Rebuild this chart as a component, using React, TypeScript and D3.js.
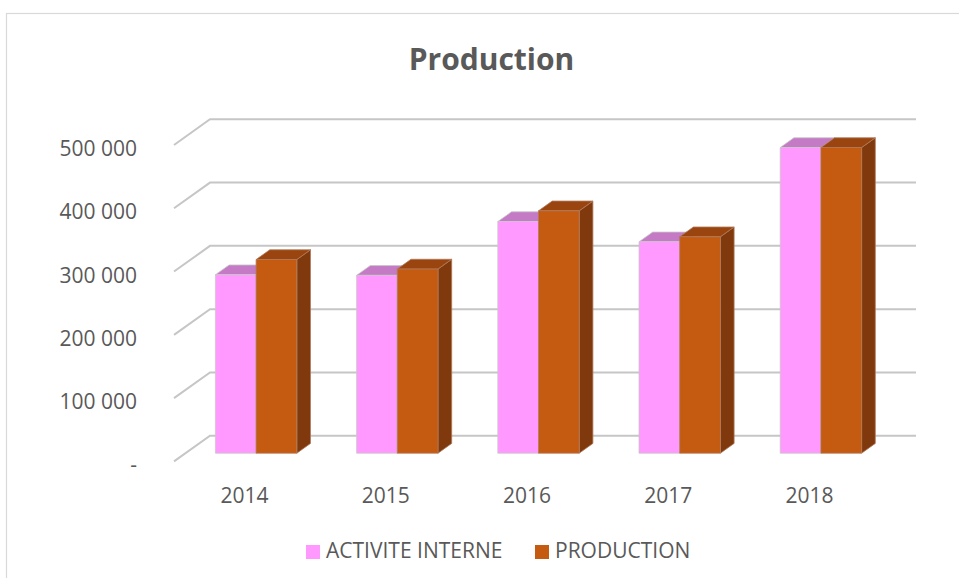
import React from "react";
import * as d3 from "d3";

const categories = ["2014", "2015", "2016", "2017", "2018"];
const activiteInterne = [282000, 281000, 366000, 334000, 483000];
const production = [306000, 291000, 383000, 342000, 483000];
const tickValues = [0, 100000, 200000, 300000, 400000, 500000];
const seriesNames = ["ACTIVITE INTERNE", "PRODUCTION"];

const W = 959;
const H = 578;
const FONT = "'Open Sans', 'Liberation Sans', sans-serif";
const TEXT = "#595959";

// back wall geometry
const backX0 = 210;
const backX1 = 916;
const backY0 = 435.7;
const backYTop = 119.3;
const depthX = -36;
const depthY = 25.7;
const barFront = 0.68;
const barBack = 0.3;
const barW = 40.7;

const seriesStyles = [
  { front: "#FF99FF", top: "#C47AC4", side: "#B36FB3", stroke: "#C8C8C8" },
  { front: "#C55A11", top: "#9A4510", side: "#7F390D", stroke: "#B07A5A" },
];

function fmt(v: number) {
  if (v === 0) return "-";
  return d3.format(",")(v).replace(/,/g, " ");
}

export default function App() {
  const y = d3.scaleLinear().domain([0, 500000]).range([backY0, backYTop]);
  const x = d3.scaleBand<string>().domain(categories).range([backX0, backX1]);
  const series = [activiteInterne, production];

  const pts = (arr: [number, number][]) => arr.map((p) => p.join(",")).join(" ");

  const bars: React.ReactNode[] = [];
  categories.forEach((c, i) => {
    const center = (x(c) as number) + x.bandwidth() / 2;
    series.forEach((vals, s) => {
      const st = seriesStyles[s];
      const bx = center - barW + s * barW; // back-plane left x
      const fx = bx + depthX * barFront;
      const fy0 = backY0 + depthY * barFront;
      const fyTop = y(vals[i]) + depthY * barFront;
      const ddx = depthX * (barBack - barFront);
      const ddy = depthY * (barBack - barFront);
      const front: [number, number][] = [
        [fx, fy0], [fx + barW, fy0], [fx + barW, fyTop], [fx, fyTop],
      ];
      const top: [number, number][] = [
        [fx, fyTop], [fx + barW, fyTop], [fx + barW + ddx, fyTop + ddy], [fx + ddx, fyTop + ddy],
      ];
      const side: [number, number][] = [
        [fx + barW, fy0], [fx + barW + ddx, fy0 + ddy], [fx + barW + ddx, fyTop + ddy], [fx + barW, fyTop],
      ];
      bars.push(
        <g key={c + s}>
          <polygon points={pts(side)} fill={st.side} stroke={st.stroke} strokeWidth={0.8} />
          <polygon points={pts(top)} fill={st.top} stroke={st.stroke} strokeWidth={0.8} />
          <polygon points={pts(front)} fill={st.front} stroke={st.stroke} strokeWidth={0.8} />
        </g>
      );
    });
  });

  return (
    <svg
      width={W}
      height={H}
      style={{ position: "absolute", left: 0, top: 0, background: "#fff" }}
    >
      <rect x={6.5} y={13.5} width={1200} height={800} fill="#fff" stroke="#D9D9D9" strokeWidth={1.2} />
      <text x={491.5} y={70} textAnchor="middle" fontFamily={FONT} fontWeight={700} fontSize={30} fill={TEXT}>
        Production
      </text>
      {tickValues.map((t) => (
        <g key={t}>
          <polyline
            points={pts([
              [backX1, y(t)],
              [backX0, y(t)],
              [backX0 + depthX, y(t) + depthY],
            ])}
            fill="none"
            stroke="#C6C6C6"
            strokeWidth={2}
          />
          <text
            x={137}
            y={y(t) + depthY + 3}
            textAnchor="end"
            dominantBaseline="central"
            fontFamily={FONT}
            fontSize={21}
            fill={TEXT}
          >
            {fmt(t)}
          </text>
        </g>
      ))}
      {bars}
      {categories.map((c) => (
        <text
          key={c}
          x={(x(c) as number) + x.bandwidth() / 2 + depthX}
          y={503}
          textAnchor="middle"
          fontFamily={FONT}
          fontSize={21}
          fill={TEXT}
        >
          {c}
        </text>
      ))}
      <g>
        <rect x={306} y={545} width={14} height={14} fill={seriesStyles[0].front} />
        <text x={326} y={558} fontFamily={FONT} fontSize={21} fill={TEXT}>
          {seriesNames[0]}
        </text>
        <rect x={535} y={545} width={14} height={14} fill={seriesStyles[1].front} />
        <text x={555} y={558} fontFamily={FONT} fontSize={21} fill={TEXT}>
          {seriesNames[1]}
        </text>
      </g>
    </svg>
  );
}
